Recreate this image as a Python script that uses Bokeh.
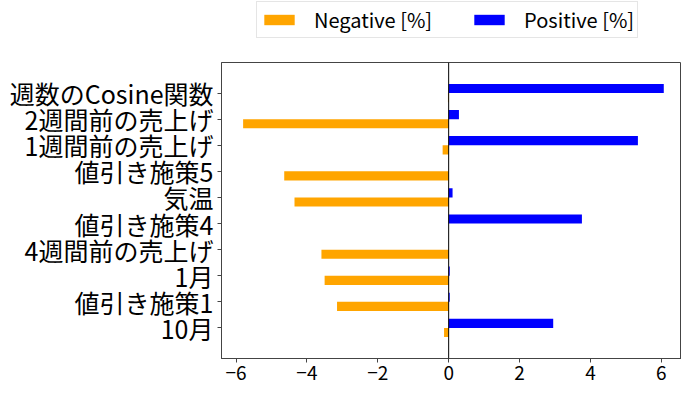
from bokeh.plotting import figure
from bokeh.layouts import column
from bokeh.models import (ColumnDataSource, FactorRange, Range1d, FixedTicker,
                          Span, Legend, LegendItem)
from bokeh.transform import dodge
from bokeh.embed import file_html
from bokeh.resources import INLINE

# Data (top to bottom as shown)
categories = ["週数のCosine関数", "2週間前の売上げ", "1週間前の売上げ", "値引き施策5", "気温",
              "値引き施策4", "4週間前の売上げ", "1月", "値引き施策1", "10月"]
positive = [6.07, 0.29, 5.34, 0.0, 0.11, 3.76, 0.0, 0.03, 0.03, 2.95]
negative = [-0.02, -5.80, -0.17, -4.64, -4.35, 0.0, -3.59, -3.50, -3.15, -0.13]
x_ticks = [-6, -4, -2, 0, 2, 4, 6]
x_tick_labels = ["−6", "−4", "−2", "0", "2", "4", "6"]
series_names = ["Negative [%]", "Positive [%]"]

FONT = "Noto Sans CJK JP"
NEG_COLOR = "orange"
POS_COLOR = "blue"

source = ColumnDataSource(dict(cat=categories, pos=positive, neg=negative))

# ---- main chart ----
factors = list(reversed(categories))
y_range = FactorRange(factors=factors, range_padding=0.67, range_padding_units="absolute")

p = figure(width=681, height=324, y_range=y_range, x_range=Range1d(-6.41, 6.57),
           output_backend="svg", toolbar_location=None,
           min_border_left=221, min_border_right=0, min_border_top=1, min_border_bottom=27)

neg_r = p.hbar(y=dodge("cat", -0.175, range=p.y_range), left=0, right="neg", height=0.35,
               color=NEG_COLOR, line_color=None, source=source)
pos_r = p.hbar(y=dodge("cat", 0.175, range=p.y_range), left=0, right="pos", height=0.35,
               color=POS_COLOR, line_color=None, source=source)

p.add_layout(Span(location=0, dimension="height", line_color="black", line_width=1))

p.xgrid.visible = False
p.ygrid.visible = False
p.outline_line_color = "#444444"
p.outline_line_width = 1

p.xaxis.ticker = FixedTicker(ticks=x_ticks)
p.xaxis.major_label_overrides = {t: l for t, l in zip(x_ticks, x_tick_labels)}
p.xaxis.minor_tick_line_color = None
for ax in (p.xaxis, p.yaxis):
    ax.axis_line_color = "#444444"
    ax.major_tick_line_color = "#444444"
    ax.major_tick_out = 4
    ax.major_tick_in = 0
    ax.major_label_standoff = 3
    ax.major_label_text_color = "black"
    ax.major_label_text_font = FONT
p.xaxis.major_label_text_font_size = "19px"
p.yaxis.major_label_text_font_size = "25px"
p.yaxis.major_label_standoff = 4

# ---- legend strip above the chart ----
pl = figure(width=681, height=61, x_range=Range1d(-6.41, 6.57), y_range=Range1d(0, 1),
            output_backend="svg", toolbar_location=None,
            x_axis_location=None, y_axis_location=None,
            min_border_left=221, min_border_right=0, min_border_top=0, min_border_bottom=0)
pl.outline_line_color = None
pl.xgrid.visible = False
pl.ygrid.visible = False
# legend handles (zero-height bars, so only the legend shows in this strip)
lneg = pl.hbar(y=0.5, left=0, right="neg", height=0, color=NEG_COLOR, line_color=None, source=source)
lpos = pl.hbar(y=0.5, left=0, right="pos", height=0, color=POS_COLOR, line_color=None, source=source)

legend = Legend(items=[LegendItem(label=series_names[0], renderers=[lneg]),
                       LegendItem(label=series_names[1], renderers=[lpos])],
                orientation="horizontal", location=(35, 23))
legend.label_text_font = FONT
legend.label_text_font_size = "20px"
legend.label_text_color = "black"
legend.label_height = 22
legend.glyph_width = 38
legend.glyph_height = 13
legend.label_standoff = 16
legend.spacing = 38
legend.padding = 3
legend.margin = 0
legend.border_line_color = "#cccccc"
legend.border_line_width = 1
legend.background_fill_alpha = 0.8
pl.add_layout(legend, "center")

layout = column(pl, p, spacing=0)
open("out.html", "w").write(file_html(layout, INLINE))
